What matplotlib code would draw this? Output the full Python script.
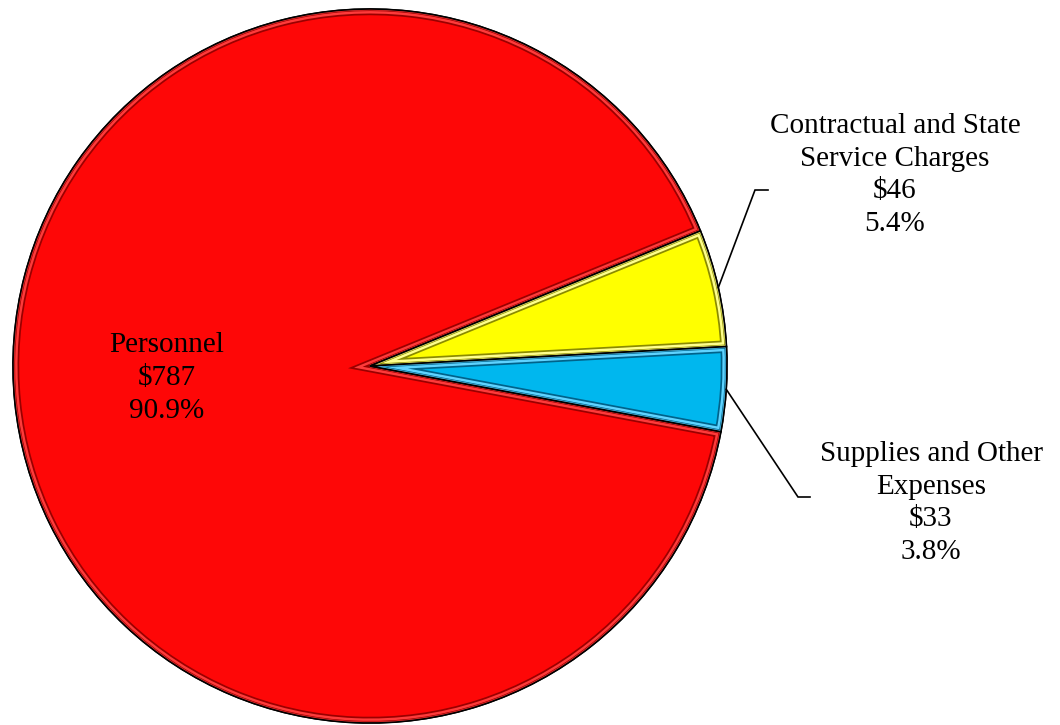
import numpy as np
import matplotlib
matplotlib.use("Agg")
import matplotlib.pyplot as plt
from matplotlib.patches import Wedge

# ---- data ----
categories = ["Personnel", "Contractual and State\nService Charges", "Supplies and Other\nExpenses"]
amounts = [787, 46, 33]
amount_labels = ["$787", "$46", "$33"]
pct_labels = ["90.9%", "5.4%", "3.8%"]

# ---- style ----
base_colors = ["#FE0707", "#FFFF00", "#00B7EE"]
dark_colors = ["#9A0000", "#8A8A00", "#00628A"]
light_colors = ["#FF3A3A", "#FFFF8C", "#5FD3FF"]

W, H = 1060, 725
fig = plt.figure(figsize=(W / 100, H / 100), dpi=100)
ax = fig.add_axes([0, 0, 1, 1])

cx, cy = 370, H - 366
R = 357

wedges, _ = ax.pie(amounts, colors=base_colors, startangle=-10.6, counterclock=False,
                   center=(cx, cy), radius=R, frame=True,
                   wedgeprops=dict(edgecolor="black", linewidth=1.0))
ax.set_xlim(0, W)
ax.set_ylim(0, H)
ax.set_aspect("equal")
ax.axis("off")

# bevel effect: inner bands clipped to each wedge
for w, dc, lc in zip(wedges, dark_colors, light_colors):
    for lw, col in [(9.0, dc), (6.5, lc), (3.0, dc), (2.0, lc)]:
        band = Wedge(w.center, w.r, w.theta1, w.theta2, facecolor="none",
                     edgecolor=col, linewidth=lw, joinstyle="miter")
        ax.add_patch(band)
        band.set_clip_path(w)
    outline = Wedge(w.center, w.r, w.theta1, w.theta2, facecolor="none",
                    edgecolor="black", linewidth=1.2)
    ax.add_patch(outline)

font = dict(family=["Liberation Serif", "DejaVu Serif"], fontsize=21, color="black",
            linespacing=1.34)

# Personnel label inside
ax.text(167, H - 378, f"{categories[0]}\n{amount_labels[0]}\n{pct_labels[0]}",
        ha="center", va="center", **font)

# outside labels with leader lines
label_pos = [None, (895, H - 175), (931, H - 503)]
elbows = [None, ((755, H - 190), (768, H - 190)), ((798, H - 497), (810, H - 497))]
for i in (1, 2):
    w = wedges[i]
    mid = np.deg2rad((w.theta1 + w.theta2) / 2)
    sx, sy = cx + R * np.cos(mid), cy + R * np.sin(mid)
    (ex, ey), (hx, hy) = elbows[i]
    ax.plot([sx, ex, hx], [sy, ey, hy], color="black", linewidth=1.2, solid_joinstyle="miter")
    ax.text(label_pos[i][0], label_pos[i][1],
            f"{categories[i]}\n{amount_labels[i]}\n{pct_labels[i]}",
            ha="center", va="center", **font)

fig.savefig("out.png", dpi=100)
